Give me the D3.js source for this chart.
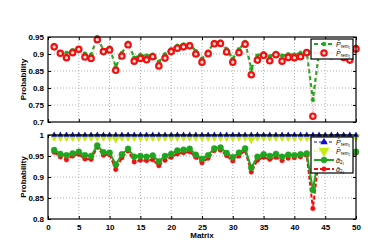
<!DOCTYPE html>
<html>
<head>
<meta charset="utf-8">
<script src="https://cdn.jsdelivr.net/npm/d3@7"></script>
<style>
  body { margin: 0; background: #fff; }
  text { font-family: "Liberation Sans", Arial, sans-serif; }
</style>
</head>
<body>
<script>
// matrix index 1..50
const matrices = d3.range(1, 51);

// top panel
const pRem1Top = [0.926, 0.905, 0.903, 0.911, 0.917, 0.901, 0.898, 0.950, 0.911, 0.919,
  0.862, 0.903, 0.933, 0.889, 0.897, 0.895, 0.898, 0.877, 0.899, 0.914,
  0.924, 0.928, 0.929, 0.908, 0.886, 0.907, 0.935, 0.937, 0.914, 0.886,
  0.914, 0.935, 0.856, 0.895, 0.902, 0.893, 0.903, 0.895, 0.899, 0.898,
  0.903, 0.906, 0.765, 0.905, 0.908, 0.904, 0.906, 0.900, 0.895, 0.921];
const pRem2Top = [0.921, 0.902, 0.889, 0.904, 0.914, 0.891, 0.887, 0.942, 0.907, 0.912,
  0.852, 0.894, 0.927, 0.879, 0.887, 0.883, 0.892, 0.865, 0.888, 0.907,
  0.917, 0.921, 0.924, 0.900, 0.876, 0.901, 0.930, 0.931, 0.906, 0.876,
  0.904, 0.929, 0.839, 0.882, 0.896, 0.880, 0.898, 0.879, 0.890, 0.889,
  0.892, 0.904, 0.717, 0.896, 0.900, 0.895, 0.899, 0.890, 0.882, 0.915];

// bottom panel
const pRem1Bot = matrices.map(() => 1.0);
const pRem2Bot = [0.995, 0.995, 0.995, 0.995, 0.995, 0.995, 0.995, 0.995, 0.995, 0.995,
  0.991, 0.995, 0.995, 0.995, 0.995, 0.995, 0.995, 0.995, 0.995, 0.995,
  0.995, 0.995, 0.995, 0.995, 0.995, 0.995, 0.995, 0.995, 0.995, 0.995,
  0.995, 0.995, 0.990, 0.995, 0.995, 0.995, 0.995, 0.995, 0.995, 0.995,
  0.995, 0.995, 0.988, 0.995, 0.995, 0.995, 0.995, 0.995, 0.995, 0.995];
const alpha1 = [0.964, 0.955, 0.952, 0.956, 0.960, 0.952, 0.950, 0.975, 0.959, 0.958,
  0.930, 0.954, 0.967, 0.948, 0.950, 0.948, 0.951, 0.937, 0.950, 0.955,
  0.963, 0.965, 0.967, 0.953, 0.943, 0.952, 0.968, 0.970, 0.957, 0.947,
  0.958, 0.968, 0.922, 0.948, 0.954, 0.950, 0.955, 0.948, 0.953, 0.952,
  0.954, 0.956, 0.869, 0.955, 0.957, 0.955, 0.956, 0.954, 0.952, 0.960];
const alpha2 = [0.959, 0.948, 0.941, 0.950, 0.954, 0.943, 0.942, 0.971, 0.952, 0.953,
  0.918, 0.946, 0.962, 0.936, 0.940, 0.939, 0.941, 0.927, 0.940, 0.947,
  0.955, 0.958, 0.960, 0.947, 0.934, 0.945, 0.963, 0.964, 0.951, 0.938,
  0.950, 0.963, 0.912, 0.940, 0.947, 0.942, 0.947, 0.939, 0.945, 0.946,
  0.948, 0.952, 0.825, 0.948, 0.950, 0.948, 0.950, 0.947, 0.945, 0.957];

const topTicks = [0.7, 0.75, 0.8, 0.85, 0.9, 0.95];
const botTicks = [0.8, 0.85, 0.9, 0.95, 1];
const xTicks = d3.range(0, 51, 5);

const width = 374, height = 245;
const left = 48, right = 356;

const green = '#1fa51f', red = '#f01010', blue = '#1010c8', yellow = '#c4ec10';

const svg = d3.select('body').append('svg')
  .attr('width', width).attr('height', height);

const x = d3.scaleLinear().domain([0, 50]).range([left, right]);

function panel(top, bottom, domain, ticks, fmt, showX) {
  const y = d3.scaleLinear().domain(domain).range([bottom, top]);
  const g = svg.append('g');
  // grid
  g.selectAll('.gx').data(xTicks.slice(1, -1)).enter().append('line')
    .attr('x1', d => x(d)).attr('x2', d => x(d)).attr('y1', top).attr('y2', bottom)
    .attr('stroke', '#999').attr('stroke-width', 0.8).attr('stroke-dasharray', '1,2');
  g.selectAll('.gy').data(ticks.slice(1, -1)).enter().append('line')
    .attr('x1', left).attr('x2', right).attr('y1', d => y(d)).attr('y2', d => y(d))
    .attr('stroke', '#999').attr('stroke-width', 0.8).attr('stroke-dasharray', '1,2');

  const yAxis = d3.axisLeft(y).tickValues(ticks).tickFormat(fmt).tickSize(-3).tickPadding(4);
  g.append('g').attr('transform', `translate(${left},0)`).call(yAxis)
    .call(a => a.select('.domain').remove());
  g.append('g').attr('transform', `translate(${right},0)`)
    .call(d3.axisRight(y).tickValues(ticks).tickSize(-3).tickFormat(''))
    .call(a => a.select('.domain').remove());
  const xAxis = d3.axisBottom(x).tickValues(xTicks).tickSize(-3).tickPadding(5)
    .tickFormat(showX ? d3.format('d') : '');
  g.append('g').attr('transform', `translate(0,${bottom})`).call(xAxis)
    .call(a => a.select('.domain').remove());
  g.append('g').attr('transform', `translate(0,${top})`)
    .call(d3.axisTop(x).tickValues(xTicks).tickSize(-3).tickFormat(''))
    .call(a => a.select('.domain').remove());
  g.selectAll('.tick text').attr('font-size', 8).attr('font-weight', 'bold').attr('fill', '#000');
  g.selectAll('.tick line').attr('stroke', '#000');

  g.append('text')
    .attr('transform', `translate(26,${(top + bottom) / 2}) rotate(-90)`)
    .attr('text-anchor', 'middle').attr('font-size', 8).attr('font-weight', 'bold')
    .text('Probability');
  return { y, g, top, bottom };
}

function drawSeries(p, values, opt) {
  const line = d3.line().x((d, i) => x(matrices[i])).y(d => p.y(d));
  p.g.append('path').datum(values)
    .attr('fill', 'none').attr('stroke', opt.lineColor || opt.color)
    .attr('stroke-width', opt.lw).attr('stroke-dasharray', opt.dash)
    .attr('d', line);
  const pts = p.g.append('g').selectAll('.m').data(values).enter();
  if (opt.shape === 'circle') {
    pts.append('circle').attr('cx', (d, i) => x(matrices[i])).attr('cy', d => p.y(d))
      .attr('r', opt.r).attr('fill', opt.fill).attr('stroke', opt.color)
      .attr('stroke-width', opt.sw);
  } else {
    const sym = d3.symbol().type(d3.symbolTriangle).size(opt.size);
    pts.append('path')
      .attr('transform', (d, i) => `translate(${x(matrices[i])},${p.y(d)}) rotate(${opt.shape === 'down' ? 180 : 0})`)
      .attr('d', sym).attr('fill', opt.color);
  }
}

const styles = {
  top1: { color: green, lw: 2.2, dash: '4,3', shape: 'circle', r: 2, fill: green, sw: 0.5 },
  top2: { color: red, lineColor: '#f4a0a0', lw: 1, dash: '1,1.5', shape: 'circle', r: 2.7, fill: '#fde0e0', sw: 2.2 },
  bot1: { color: blue, lw: 1.2, dash: '3,2', shape: 'up', size: 15 },
  bot2: { color: yellow, lw: 1.2, dash: '1,1.5', shape: 'down', size: 32 },
  bot3: { color: green, lw: 2, dash: null, shape: 'circle', r: 3, fill: green, sw: 0.5 },
  bot4: { color: red, lw: 2, dash: '4,2', shape: 'circle', r: 2.3, fill: red, sw: 0.5 }
};

const pTop = panel(37, 122, [0.7, 0.95], topTicks, d3.format('.2~f'), false);
drawSeries(pTop, pRem1Top, styles.top1);
drawSeries(pTop, pRem2Top, styles.top2);

const pBot = panel(135, 219, [0.8, 1], botTicks, d => d === 1 ? '1' : d3.format('.2~f')(d), true);
drawSeries(pBot, pRem2Bot, styles.bot2);
drawSeries(pBot, pRem1Bot, styles.bot1);
drawSeries(pBot, alpha2, styles.bot4);
drawSeries(pBot, alpha1, styles.bot3);

// frames
[pTop, pBot].forEach(p => {
  svg.append('rect').attr('x', left).attr('y', p.top)
    .attr('width', right - left).attr('height', p.bottom - p.top)
    .attr('fill', 'none').attr('stroke', '#000').attr('stroke-width', 1.2);
});

svg.append('text').attr('x', 202).attr('y', 238).attr('text-anchor', 'middle')
  .attr('font-size', 8).attr('font-weight', 'bold').text('Matrix');

function legend(x0, y0, h, entries) {
  const g = svg.append('g');
  g.append('rect').attr('x', x0).attr('y', y0).attr('width', 42).attr('height', h)
    .attr('fill', '#fff').attr('stroke', '#000').attr('stroke-width', 1.2);
  entries.forEach((e, i) => {
    const cy = y0 + 5 + i * 9;
    const st = e.style;
    g.append('line').attr('x1', x0 + 3).attr('x2', x0 + 23).attr('y1', cy).attr('y2', cy)
      .attr('stroke', st.lineColor || st.color).attr('stroke-width', st.lw)
      .attr('stroke-dasharray', st.dash);
    if (st.shape === 'circle') {
      g.append('circle').attr('cx', x0 + 13).attr('cy', cy).attr('r', st.r)
        .attr('fill', st.fill).attr('stroke', st.color).attr('stroke-width', st.sw);
    } else {
      g.append('path').attr('transform', `translate(${x0 + 13},${cy}) rotate(${st.shape === 'down' ? 180 : 0})`)
        .attr('d', d3.symbol().type(d3.symbolTriangle).size(st.size * 1.6)).attr('fill', st.color);
    }
    const t = g.append('text').attr('x', x0 + 25).attr('y', cy + 2.5)
      .attr('font-family', '"DejaVu Serif", serif').attr('font-style', 'italic').attr('font-size', 7);
    t.append('tspan').text(e.main);
    t.append('tspan').attr('dy', 1.5).attr('font-size', 4.5).attr('font-style', 'normal').text(e.sub);
  });
}

legend(311, 39, 20, [
  { style: styles.top1, main: 'P\u0304', sub: 'rem\u2081' },
  { style: styles.top2, main: 'P\u0304', sub: 'rem\u2082' }
]);
legend(311, 137, 36, [
  { style: styles.bot1, main: 'P\u0304', sub: 'rem\u2081' },
  { style: styles.bot2, main: 'P\u0304', sub: 'rem\u2082' },
  { style: styles.bot3, main: '\u03b1\u0304', sub: '2\u2081' },
  { style: styles.bot4, main: '\u03b1\u0304', sub: '2\u2082' }
]);
</script>
</body>
</html>
